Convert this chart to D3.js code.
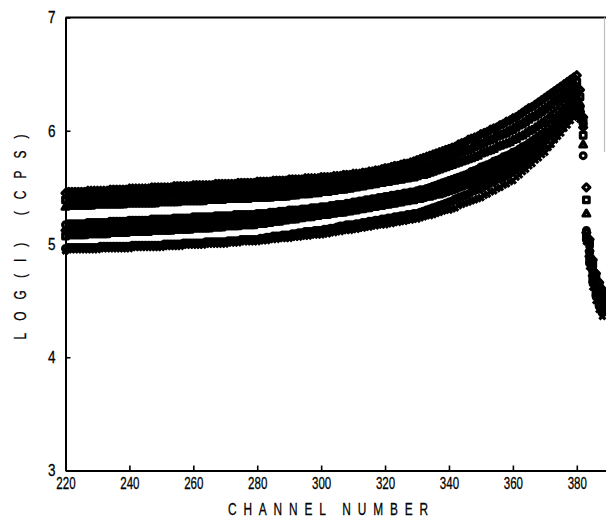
<!DOCTYPE html>
<html>
<head>
<meta charset="utf-8">
<script src="https://cdn.jsdelivr.net/npm/d3@7"></script>
<style>
  html, body { margin: 0; padding: 0; background: #fff; }
  svg { display: block; }
</style>
</head>
<body>
<svg id="chart" width="606" height="520"></svg>
<script>
// Channel numbers 220..388, one reading per channel
const channels = d3.range(220, 389);

// log(I) readings per channel, three groups of overlapping scans
const scanT1 = [
  5.45,5.46,5.46,5.46,5.46,5.46,5.46,5.47,5.47,5.47,
  5.47,5.47,5.47,5.47,5.48,5.48,5.48,5.48,5.48,5.48,
  5.49,5.49,5.49,5.49,5.49,5.49,5.49,5.50,5.50,5.50,
  5.50,5.50,5.50,5.50,5.51,5.51,5.51,5.51,5.51,5.51,
  5.52,5.52,5.52,5.52,5.52,5.52,5.52,5.53,5.53,5.53,
  5.53,5.53,5.53,5.53,5.54,5.54,5.54,5.54,5.54,5.54,
  5.55,5.55,5.55,5.55,5.55,5.56,5.56,5.56,5.56,5.56,
  5.57,5.57,5.57,5.57,5.57,5.58,5.58,5.58,5.58,5.58,
  5.59,5.59,5.59,5.59,5.60,5.60,5.60,5.61,5.61,5.61,
  5.62,5.62,5.62,5.63,5.63,5.64,5.64,5.65,5.65,5.66,
  5.67,5.67,5.68,5.69,5.69,5.70,5.71,5.71,5.72,5.73,
  5.74,5.75,5.76,5.77,5.78,5.79,5.80,5.81,5.82,5.83,
  5.84,5.85,5.86,5.88,5.89,5.90,5.92,5.93,5.94,5.95,
  5.97,5.98,5.99,6.01,6.02,6.03,6.05,6.06,6.08,6.09,
  6.11,6.12,6.14,6.16,6.18,6.20,6.21,6.23,6.25,6.27,
  6.29,6.31,6.33,6.35,6.37,6.39,6.41,6.43,6.45,6.47,
  6.49,6.36,6.03,5.50,5.04,4.86,4.74,4.66,4.60
];
const scanT2 = [
  5.39,5.40,5.40,5.40,5.40,5.40,5.40,5.41,5.41,5.41,
  5.41,5.41,5.41,5.41,5.41,5.42,5.42,5.42,5.42,5.42,
  5.42,5.42,5.42,5.42,5.43,5.43,5.43,5.43,5.43,5.43,
  5.43,5.43,5.44,5.44,5.44,5.44,5.44,5.45,5.45,5.45,
  5.45,5.45,5.45,5.45,5.45,5.46,5.46,5.46,5.46,5.46,
  5.46,5.46,5.46,5.47,5.47,5.47,5.47,5.47,5.47,5.47,
  5.48,5.48,5.48,5.48,5.48,5.49,5.49,5.49,5.49,5.49,
  5.50,5.50,5.50,5.50,5.50,5.51,5.51,5.51,5.51,5.52,
  5.52,5.52,5.53,5.53,5.53,5.54,5.54,5.54,5.55,5.55,
  5.56,5.56,5.56,5.57,5.57,5.58,5.58,5.59,5.59,5.60,
  5.61,5.61,5.62,5.62,5.63,5.64,5.64,5.65,5.65,5.66,
  5.67,5.68,5.68,5.69,5.70,5.71,5.72,5.73,5.74,5.75,
  5.76,5.77,5.78,5.80,5.81,5.82,5.83,5.84,5.86,5.87,
  5.88,5.89,5.91,5.92,5.93,5.95,5.96,5.97,5.98,6.00,
  6.01,6.03,6.05,6.06,6.08,6.10,6.12,6.13,6.15,6.17,
  6.19,6.21,6.23,6.26,6.28,6.30,6.33,6.35,6.38,6.40,
  6.43,6.30,5.96,5.39,5.00,4.82,4.71,4.62,4.56
];
const scanT3 = [
  5.33,5.34,5.34,5.34,5.34,5.34,5.34,5.34,5.34,5.35,
  5.35,5.35,5.35,5.35,5.35,5.35,5.35,5.35,5.35,5.36,
  5.36,5.36,5.36,5.36,5.36,5.36,5.36,5.36,5.36,5.37,
  5.37,5.37,5.37,5.37,5.37,5.37,5.38,5.38,5.38,5.38,
  5.38,5.38,5.38,5.38,5.39,5.39,5.39,5.39,5.39,5.39,
  5.40,5.40,5.40,5.40,5.40,5.40,5.40,5.40,5.41,5.41,
  5.41,5.41,5.41,5.41,5.41,5.42,5.42,5.42,5.42,5.42,
  5.43,5.43,5.43,5.44,5.44,5.44,5.44,5.45,5.45,5.45,
  5.46,5.46,5.46,5.47,5.47,5.48,5.48,5.48,5.49,5.49,
  5.50,5.50,5.51,5.51,5.52,5.52,5.53,5.53,5.54,5.54,
  5.55,5.55,5.56,5.56,5.57,5.57,5.58,5.58,5.59,5.59,
  5.60,5.61,5.61,5.62,5.63,5.64,5.65,5.66,5.67,5.68,
  5.69,5.70,5.71,5.72,5.73,5.74,5.75,5.76,5.77,5.78,
  5.80,5.81,5.82,5.83,5.84,5.86,5.87,5.88,5.89,5.90,
  5.92,5.93,5.95,5.96,5.98,6.00,6.01,6.03,6.05,6.07,
  6.09,6.11,6.14,6.16,6.19,6.22,6.25,6.28,6.31,6.34,
  6.37,6.24,5.88,5.27,4.96,4.79,4.67,4.58,4.52
];
const scanM1 = [
  5.17,5.18,5.18,5.18,5.18,5.18,5.18,5.19,5.19,5.19,
  5.19,5.19,5.19,5.19,5.20,5.20,5.20,5.20,5.20,5.20,
  5.21,5.21,5.21,5.21,5.21,5.21,5.21,5.22,5.22,5.22,
  5.22,5.22,5.22,5.22,5.23,5.23,5.23,5.23,5.23,5.23,
  5.24,5.24,5.24,5.24,5.24,5.24,5.24,5.25,5.25,5.25,
  5.25,5.25,5.25,5.26,5.26,5.26,5.26,5.26,5.26,5.26,
  5.27,5.27,5.27,5.27,5.28,5.28,5.28,5.29,5.29,5.29,
  5.30,5.30,5.30,5.30,5.31,5.31,5.31,5.32,5.32,5.32,
  5.33,5.33,5.33,5.34,5.34,5.35,5.35,5.35,5.36,5.36,
  5.37,5.37,5.38,5.38,5.39,5.39,5.40,5.40,5.41,5.41,
  5.42,5.42,5.43,5.43,5.44,5.44,5.45,5.45,5.46,5.46,
  5.47,5.48,5.48,5.49,5.50,5.51,5.52,5.53,5.54,5.55,
  5.56,5.57,5.58,5.59,5.60,5.61,5.62,5.64,5.65,5.66,
  5.68,5.69,5.70,5.71,5.73,5.74,5.75,5.77,5.78,5.79,
  5.81,5.82,5.84,5.86,5.87,5.89,5.91,5.93,5.95,5.97,
  5.99,6.02,6.05,6.08,6.11,6.14,6.18,6.21,6.25,6.28,
  6.32,6.20,5.78,5.12,4.92,4.75,4.63,4.55,4.48
];
const scanM2 = [
  5.12,5.13,5.13,5.13,5.13,5.13,5.13,5.14,5.14,5.14,
  5.14,5.14,5.14,5.14,5.15,5.15,5.15,5.15,5.15,5.15,
  5.16,5.16,5.16,5.16,5.16,5.16,5.16,5.17,5.17,5.17,
  5.17,5.17,5.17,5.17,5.18,5.18,5.18,5.18,5.18,5.18,
  5.19,5.19,5.19,5.19,5.19,5.19,5.19,5.20,5.20,5.20,
  5.20,5.20,5.20,5.21,5.21,5.21,5.21,5.21,5.22,5.22,
  5.22,5.22,5.23,5.23,5.23,5.24,5.24,5.24,5.25,5.25,
  5.26,5.26,5.26,5.27,5.27,5.27,5.28,5.28,5.28,5.29,
  5.29,5.29,5.30,5.30,5.31,5.31,5.31,5.32,5.32,5.33,
  5.33,5.34,5.34,5.35,5.35,5.36,5.36,5.37,5.37,5.38,
  5.38,5.39,5.39,5.40,5.40,5.41,5.41,5.42,5.42,5.43,
  5.43,5.44,5.45,5.45,5.46,5.47,5.48,5.48,5.49,5.50,
  5.51,5.52,5.53,5.54,5.56,5.57,5.58,5.59,5.60,5.61,
  5.63,5.64,5.65,5.67,5.68,5.69,5.71,5.72,5.73,5.75,
  5.76,5.78,5.80,5.82,5.84,5.86,5.87,5.89,5.91,5.93,
  5.95,5.98,6.01,6.04,6.08,6.11,6.14,6.18,6.21,6.24,
  6.28,6.17,6.12,5.10,4.89,4.72,4.60,4.51,4.45
];
const scanM3 = [
  5.07,5.08,5.08,5.08,5.08,5.08,5.08,5.09,5.09,5.09,
  5.09,5.09,5.09,5.09,5.10,5.10,5.10,5.10,5.10,5.10,
  5.11,5.11,5.11,5.11,5.11,5.11,5.11,5.12,5.12,5.12,
  5.12,5.12,5.12,5.12,5.13,5.13,5.13,5.13,5.13,5.13,
  5.14,5.14,5.14,5.14,5.14,5.14,5.15,5.15,5.15,5.15,
  5.16,5.16,5.16,5.16,5.16,5.17,5.17,5.17,5.17,5.17,
  5.18,5.18,5.18,5.19,5.19,5.20,5.20,5.20,5.21,5.21,
  5.22,5.22,5.22,5.23,5.23,5.24,5.24,5.24,5.25,5.25,
  5.26,5.26,5.26,5.27,5.27,5.28,5.28,5.28,5.29,5.29,
  5.30,5.30,5.31,5.31,5.32,5.32,5.33,5.33,5.34,5.34,
  5.35,5.35,5.36,5.36,5.37,5.37,5.38,5.38,5.39,5.39,
  5.40,5.40,5.41,5.42,5.42,5.43,5.44,5.44,5.45,5.46,
  5.47,5.48,5.49,5.50,5.51,5.52,5.53,5.54,5.55,5.56,
  5.58,5.59,5.60,5.62,5.63,5.65,5.66,5.67,5.69,5.70,
  5.72,5.74,5.76,5.78,5.80,5.82,5.84,5.86,5.88,5.90,
  5.92,5.95,5.98,6.01,6.04,6.08,6.11,6.14,6.17,6.20,
  6.24,6.14,6.08,5.06,4.86,4.69,4.57,4.48,4.42
];
const scanB1 = [
  4.96,4.97,4.97,4.97,4.97,4.97,4.97,4.97,4.97,4.97,
  4.97,4.98,4.98,4.98,4.98,4.98,4.98,4.98,4.98,4.98,
  4.98,4.99,4.99,4.99,4.99,4.99,4.99,4.99,4.99,4.99,
  4.99,5.00,5.00,5.00,5.00,5.00,5.00,5.01,5.01,5.01,
  5.01,5.01,5.01,5.01,5.02,5.02,5.02,5.02,5.02,5.02,
  5.02,5.03,5.03,5.03,5.03,5.04,5.04,5.04,5.04,5.04,
  5.04,5.05,5.05,5.06,5.06,5.07,5.07,5.07,5.08,5.08,
  5.08,5.09,5.09,5.10,5.10,5.11,5.11,5.11,5.12,5.12,
  5.12,5.13,5.13,5.14,5.14,5.15,5.16,5.16,5.17,5.17,
  5.17,5.18,5.18,5.19,5.19,5.20,5.20,5.21,5.21,5.22,
  5.22,5.23,5.23,5.24,5.24,5.25,5.25,5.26,5.26,5.27,
  5.27,5.28,5.29,5.30,5.31,5.32,5.33,5.34,5.35,5.36,
  5.37,5.38,5.40,5.41,5.42,5.43,5.44,5.46,5.47,5.48,
  5.49,5.51,5.52,5.54,5.55,5.57,5.58,5.59,5.61,5.62,
  5.64,5.66,5.68,5.70,5.72,5.74,5.76,5.78,5.80,5.82,
  5.84,5.87,5.91,5.94,5.98,6.01,6.05,6.08,6.12,6.15,
  6.19,6.12,6.06,5.04,4.83,4.66,4.54,4.45,4.39
];
const scanB2 = [
  4.94,4.95,4.95,4.95,4.95,4.95,4.95,4.95,4.95,4.95,
  4.95,4.96,4.96,4.96,4.96,4.96,4.96,4.96,4.96,4.96,
  4.96,4.97,4.97,4.97,4.97,4.97,4.97,4.97,4.97,4.97,
  4.97,4.98,4.98,4.98,4.98,4.98,4.98,4.99,4.99,4.99,
  4.99,4.99,4.99,4.99,5.00,5.00,5.00,5.00,5.00,5.00,
  5.00,5.01,5.01,5.01,5.01,5.02,5.02,5.02,5.02,5.02,
  5.02,5.03,5.03,5.03,5.04,5.04,5.04,5.05,5.05,5.05,
  5.05,5.06,5.06,5.06,5.07,5.07,5.07,5.08,5.08,5.08,
  5.08,5.09,5.09,5.10,5.10,5.11,5.11,5.12,5.12,5.12,
  5.13,5.13,5.14,5.14,5.15,5.15,5.16,5.16,5.17,5.17,
  5.17,5.18,5.18,5.19,5.19,5.20,5.20,5.21,5.21,5.22,
  5.22,5.23,5.24,5.25,5.25,5.26,5.27,5.28,5.29,5.30,
  5.30,5.31,5.32,5.34,5.35,5.36,5.37,5.38,5.39,5.40,
  5.41,5.43,5.44,5.46,5.47,5.49,5.50,5.52,5.53,5.55,
  5.56,5.59,5.61,5.64,5.66,5.69,5.71,5.74,5.76,5.79,
  5.81,5.85,5.88,5.92,5.95,5.98,6.02,6.05,6.09,6.12,
  6.15,6.10,6.04,5.02,4.80,4.62,4.50,4.42,4.36
];

const scanMarkers = ["diamond", "square", "triangle", "circle", "diamond", "square", "circle", "cross"];
const scans = [scanT1, scanT2, scanT3, scanM1, scanM2, scanM3, scanB1, scanB2];

// Axis ticks and titles
const xTicks = [220, 240, 260, 280, 300, 320, 340, 360, 380];
const yTicks = [3, 4, 5, 6, 7];
const xTitle = "CHANNEL NUMBER";
const yTitle = "LOG(I) (CPS)";

const svg = d3.select("#chart");
const W = 606, H = 520;

const x = d3.scaleLinear().domain([220, 400]).range([65.5, 640.7]);
const y = d3.scaleLinear().domain([3, 7]).range([470.5, 17.5]);

// Plotter-style heavy marker outlines
const markerPath = {
  diamond: "M0,-3.5L3.5,0L0,3.5L-3.5,0Z",
  square: "M-2.8,-2.8H2.8V2.8H-2.8Z",
  triangle: "M0,-3.3L3.4,2.6H-3.4Z",
  circle: d3.symbol(d3.symbolCircle, 26)(),
  cross: "M-3,-3L3,3M3,-3L-3,3"
};

const plot = svg.append("g").attr("class", "scans");
scans.forEach((vals, k) => {
  plot.append("g")
    .selectAll("path")
    .data(vals.map((v, i) => ({ c: channels[i], v })))
    .join("path")
    .attr("d", markerPath[scanMarkers[k]])
    .attr("transform", d => `translate(${x(d.c)},${y(d.v)})`)
    .attr("fill", "none")
    .attr("stroke", "#000")
    .attr("stroke-width", 3.2)
    .attr("stroke-linejoin", "round");
});

const fontFam = "'Liberation Sans', Arial, sans-serif";

// Bottom axis with inward ticks
const gx = svg.append("g")
  .attr("transform", `translate(0,${y(3)})`)
  .call(d3.axisBottom(x).tickValues(xTicks).tickFormat(d3.format("d"))
    .tickSize(-5).tickSizeOuter(0).tickPadding(7));
gx.select(".domain").attr("stroke", "#000").attr("stroke-width", 2);
gx.selectAll(".tick line").attr("stroke", "#000").attr("stroke-width", 1.6);
gx.selectAll(".tick text")
  .attr("font-family", fontFam)
  .attr("font-size", 16.5)
  .attr("fill", "#000")
  .attr("stroke", "#000")
  .attr("stroke-width", 0.3)
  .attr("transform", "scale(0.7,1)");

// Left axis with inward ticks
const yScaleX = 0.82;
const gy = svg.append("g")
  .attr("transform", `translate(${x(220)},0)`)
  .call(d3.axisLeft(y).tickValues(yTicks).tickFormat(d3.format("d"))
    .tickSize(-5).tickSizeOuter(0).tickPadding(10 / yScaleX));
gy.select(".domain").attr("stroke", "#000").attr("stroke-width", 2);
gy.selectAll(".tick line").attr("stroke", "#000").attr("stroke-width", 1.6);
gy.selectAll(".tick text")
  .attr("font-family", fontFam)
  .attr("font-size", 16.5)
  .attr("fill", "#000")
  .attr("stroke", "#000")
  .attr("stroke-width", 0.3)
  .attr("transform", `scale(${yScaleX},1)`);

// Top frame line and faint right edge
svg.append("line")
  .attr("x1", x(220)).attr("x2", W).attr("y1", y(7)).attr("y2", y(7))
  .attr("stroke", "#000").attr("stroke-width", 2);
svg.append("line")
  .attr("x1", 604.5).attr("x2", 604.5).attr("y1", y(7)).attr("y2", 152)
  .attr("stroke", "#bdbdbd").attr("stroke-width", 1.2);

// Axis titles
const titleScale = 0.7;
svg.append("g")
  .attr("transform", `translate(328,514.5) scale(${titleScale},1)`)
  .append("text")
  .attr("text-anchor", "middle")
  .attr("font-family", fontFam)
  .attr("font-size", 17)
  .attr("fill", "#000")
  .attr("stroke", "#000")
  .attr("stroke-width", 0.3)
  .attr("textLength", 200 / titleScale)
  .attr("lengthAdjust", "spacing")
  .text(xTitle);

svg.append("g")
  .attr("transform", `translate(19.5,237) rotate(-90) scale(${titleScale},1)`)
  .append("text")
  .attr("text-anchor", "middle")
  .attr("y", 6)
  .attr("font-family", fontFam)
  .attr("font-size", 17)
  .attr("fill", "#000")
  .attr("stroke", "#000")
  .attr("stroke-width", 0.3)
  .attr("textLength", 205 / titleScale)
  .attr("lengthAdjust", "spacing")
  .text(yTitle);
</script>
</body>
</html>
